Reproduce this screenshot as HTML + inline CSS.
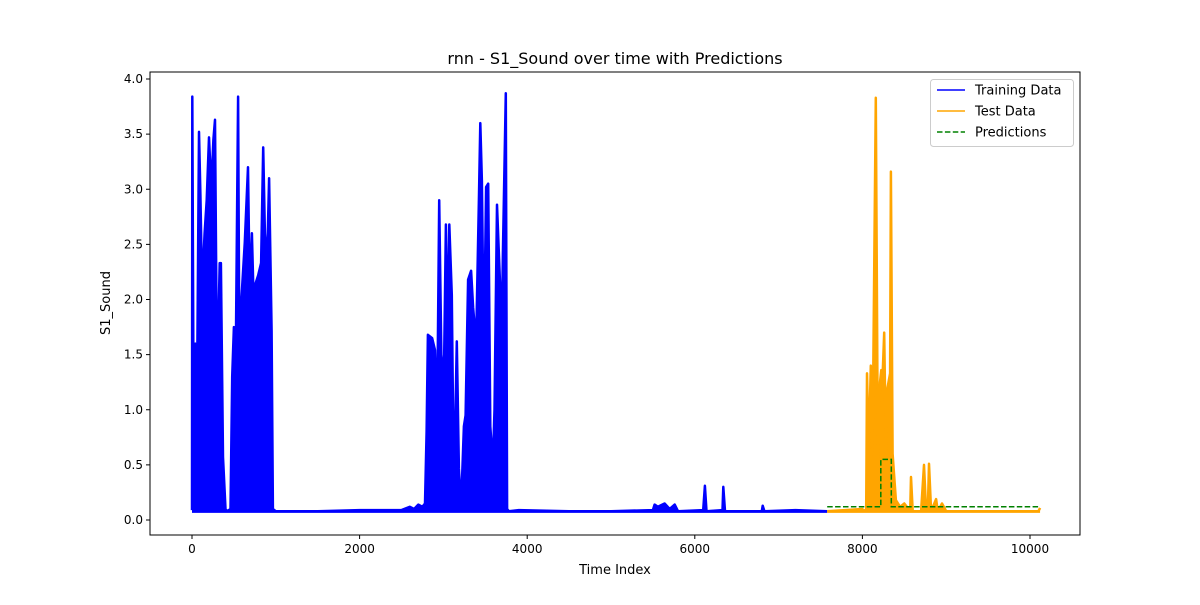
<!DOCTYPE html>
<html><head><meta charset="utf-8">
<style>
body{margin:0;background:#fff;}
svg text{font-family:"DejaVu Sans","Liberation Sans",sans-serif;fill:#000;}
</style></head>
<body>
<svg id="chart" width="1200" height="600" xmlns="http://www.w3.org/2000/svg">
<rect width="1200" height="600" fill="#fff"/>
<g id="plot"></g>
<g id="axes"></g>
</svg>
<script>
const trainIdx=[0,4,20,40,60,84,100,120,150,175,203,230,255,275,300,330,345,370,400,420,460,480,500,525,550,570,590,630,668,690,715,735,760,790,825,850,870,895,920,950,965,1000,1500,2000,2500,2600,2650,2700,2750,2780,2800,2815,2865,2900,2925,2950,2980,3010,3030,3050,3070,3100,3125,3160,3185,3210,3245,3265,3295,3330,3355,3390,3425,3440,3460,3480,3490,3510,3535,3560,3590,3610,3640,3675,3695,3710,3745,3760,3780,3900,4500,5000,5500,5520,5560,5640,5700,5760,5800,6100,6120,6140,6330,6340,6360,6800,6810,6830,7200,7580];
const trainVal=[0.09,3.84,0.7,1.6,1.1,3.52,2.95,2.1,2.6,2.9,3.47,3.0,3.45,3.63,1.2,2.33,2.33,0.57,0.1,0.08,0.1,1.3,1.75,1.7,3.84,0.6,2.0,2.52,3.2,2.0,2.6,2.0,2.15,2.22,2.33,3.38,2.6,2.3,3.1,1.72,0.1,0.08,0.08,0.09,0.09,0.12,0.1,0.14,0.12,0.15,0.8,1.68,1.65,1.54,0.85,2.9,1.27,1.5,2.68,1.6,2.68,2.04,0.2,1.62,0.47,0.1,0.85,0.95,2.18,2.26,1.93,1.6,2.95,3.6,3.07,1.7,1.9,3.02,3.05,0.85,0.5,1.0,2.86,2.15,1.6,2.42,3.87,0.1,0.08,0.09,0.08,0.08,0.09,0.14,0.12,0.15,0.1,0.14,0.08,0.09,0.31,0.08,0.09,0.3,0.08,0.08,0.13,0.08,0.09,0.08];
const testIdx=[7580,8000,8020,8045,8055,8075,8100,8120,8160,8185,8210,8225,8240,8260,8280,8300,8330,8340,8360,8400,8450,8500,8570,8580,8600,8700,8735,8760,8780,8795,8820,8880,8900,8950,9000,9500,10100,10120];
const testVal=[0.08,0.1,0.08,0.1,1.33,0.6,1.4,0.6,3.83,0.5,1.25,1.36,1.28,1.7,0.6,1.2,1.33,3.16,0.6,0.18,0.12,0.15,0.08,0.39,0.08,0.08,0.5,0.08,0.08,0.51,0.08,0.19,0.08,0.15,0.08,0.08,0.08,0.11];
const predIdx=[7580,8220,8220,8345,8345,10120];
const predVal=[0.12,0.12,0.55,0.55,0.12,0.12];
const xTicks=[0,2000,4000,6000,8000,10000];
const yTicks=[0.0,0.5,1.0,1.5,2.0,2.5,3.0,3.5,4.0];

const NS="http://www.w3.org/2000/svg";
const L=150,R=1080,T=72,B=535;
const X=v=>192+v*0.0838;
const Y=v=>520-v*110.25;
function mk(tag,attrs,parent){const e=document.createElementNS(NS,tag);for(const k in attrs)e.setAttribute(k,attrs[k]);parent.appendChild(e);return e;}
const plot=document.getElementById('plot'),axes=document.getElementById('axes');

function series(idx,val,color,name,fill){
  const pts=idx.map((d,i)=>X(d).toFixed(1)+','+Y(val[i]).toFixed(1));
  if(fill){
    const poly=mk('polygon',{points:X(idx[0])+','+Y(0.065)+' '+pts.join(' ')+' '+X(idx[idx.length-1])+','+Y(0.065),fill:color,stroke:'none'},plot);
    
    
  }
  const pl=mk('polyline',{points:pts.join(' '),fill:'none',stroke:color,'stroke-width':2.5,'stroke-linejoin':'round'},plot);
  
  
}
series(trainIdx,trainVal,'#0000ff','training-data-line',true);
series(testIdx,testVal,'#ffa500','test-data-line',true);
const pp=predIdx.map((d,i)=>X(d).toFixed(1)+','+Y(predVal[i]).toFixed(1)).join(' ');
const pl=mk('polyline',{points:pp,fill:'none',stroke:'#008000','stroke-width':1.5,'stroke-dasharray':'5.5,2.4'},plot);



const frame=mk('rect',{x:L,y:T,width:R-L,height:B-T,fill:'none',stroke:'#000','stroke-width':1},axes);


xTicks.forEach(t=>{
  const x=X(t);
  mk('line',{x1:x,x2:x,y1:B,y2:B+4,stroke:'#000'},axes);
  const tx=mk('text',{x:x,y:B+18,'text-anchor':'middle','font-size':12},axes);
  tx.textContent=t;
  
  
});
yTicks.forEach(t=>{
  const y=Y(t);
  mk('line',{x1:L-4,x2:L,y1:y,y2:y,stroke:'#000'},axes);
  const tx=mk('text',{x:L-7,y:y+4,'text-anchor':'end','font-size':12},axes);
  tx.textContent=t.toFixed(1);
  
  
});
const tt=mk('text',{x:615,y:64,'text-anchor':'middle','font-size':16},axes);
tt.textContent='rnn - S1_Sound over time with Predictions';


const xl=mk('text',{x:615,y:574,'text-anchor':'middle','font-size':13},axes);
xl.textContent='Time Index';


const yl=mk('text',{x:0,y:0,'text-anchor':'middle','font-size':13,transform:'translate(110,303) rotate(-90)'},axes);
yl.textContent='S1_Sound';



const lg=mk('g',{},axes);


mk('rect',{x:930.5,y:79.5,width:143,height:67,rx:3,fill:'#fff','fill-opacity':0.8,stroke:'#ccc'},lg);
const entries=[['Training Data','#0000ff',''],['Test Data','#ffa500',''],['Predictions','#008000','5.5,2.4']];
entries.forEach((e,i)=>{
  const y=90+i*21;
  const g=mk('g',{},lg);
  
  
  const a={x1:937,x2:965,y1:y,y2:y,stroke:e[1],'stroke-width':1.5};
  if(e[2])a['stroke-dasharray']=e[2];
  mk('line',a,g);
  const t=mk('text',{x:975,y:y+4.5,'font-size':13},g);
  t.textContent=e[0];
});
</script>
</body></html>
